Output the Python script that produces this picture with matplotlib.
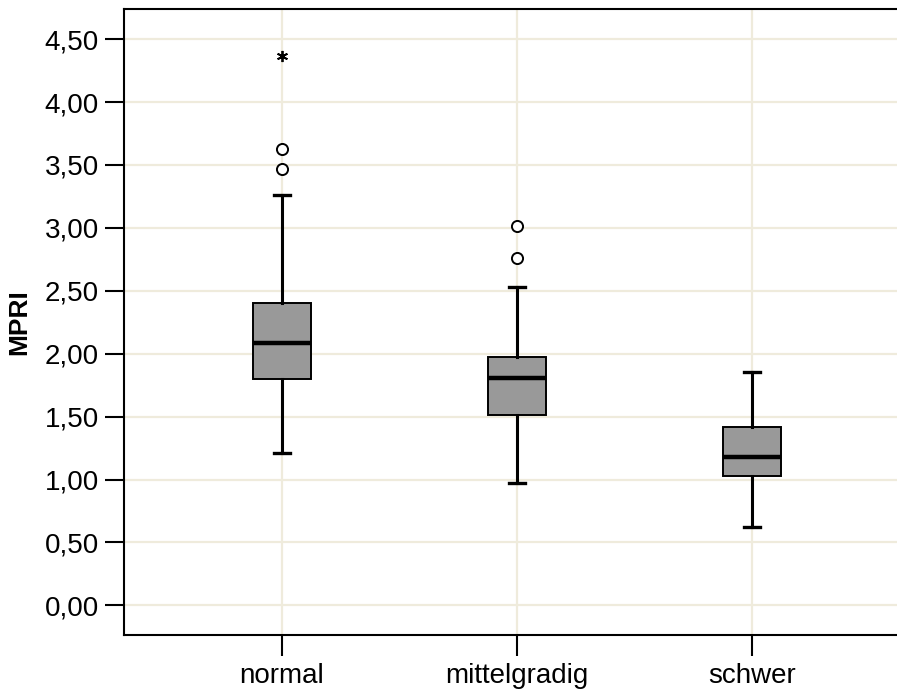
import numpy as np
import matplotlib
matplotlib.use("Agg")
import matplotlib.pyplot as plt

plt.rcParams['font.family'] = ['Liberation Sans', 'DejaVu Sans']

# values
groups = ["normal", "mittelgradig", "schwer"]
whislo = [1.21, 0.97, 0.62]
q1 = [1.80, 1.51, 1.03]
med = [2.085, 1.81, 1.175]
q3 = [2.40, 1.97, 1.415]
whishi = [3.26, 2.53, 1.855]
outliers = [[3.47, 3.63], [2.76, 3.015], []]
extremes = [[4.37], [], []]
yticks = [0.0, 0.5, 1.0, 1.5, 2.0, 2.5, 3.0, 3.5, 4.0, 4.5]

fig = plt.figure(figsize=(8.97, 6.93), dpi=100)
ax = fig.add_axes([124 / 897, 1 - 635 / 693, (910 - 124) / 897, (635 - 9) / 693])

grid_col = "#efebdc"
for yt in yticks:
    ax.axhline(yt, color=grid_col, lw=1.6, zorder=0)
pos = np.arange(len(groups))
for p in pos:
    ax.axvline(p, color=grid_col, lw=1.6, zorder=0)

stats = []
for i, g in enumerate(groups):
    stats.append(dict(label=g, whislo=whislo[i], q1=q1[i], med=med[i],
                      q3=q3[i], whishi=whishi[i], fliers=outliers[i]))

ax.bxp(stats, positions=pos, widths=0.25, patch_artist=True, manage_ticks=False,
       boxprops=dict(facecolor="#999999", edgecolor="black", linewidth=1.4),
       medianprops=dict(color="black", linewidth=3.2),
       whiskerprops=dict(color="black", linewidth=2.2),
       capprops=dict(color="black", linewidth=2.4),
       capwidths=0.07,
       flierprops=dict(marker="o", markerfacecolor="white", markeredgecolor="black",
                       markersize=8, markeredgewidth=1.4))

for i, ex in enumerate(extremes):
    if ex:
        ax.plot([pos[i]] * len(ex), ex, linestyle="none", marker=(6, 2, 0),
                markersize=8, color="black", markeredgewidth=1.3, zorder=5)

ax.set_xlim(-0.672, 2.672)
ax.set_ylim(-0.236, 4.74)
ax.set_yticks(yticks)
ax.set_yticklabels([f"{v:.2f}".replace(".", ",") for v in yticks])
ax.set_xticks(pos)
ax.set_xticklabels(groups)
ax.tick_params(axis="y", direction="out", length=14, width=1.5, labelsize=20, pad=4)
ax.tick_params(axis="x", direction="out", length=15, width=1.5, labelsize=20, pad=5)
for side in ["left", "bottom", "top"]:
    ax.spines[side].set_linewidth(1.5)
ax.spines["right"].set_visible(False)
ax.set_ylabel("MPRI", fontsize=19, fontweight="bold", labelpad=10)

fig.savefig("out.png", dpi=100)
